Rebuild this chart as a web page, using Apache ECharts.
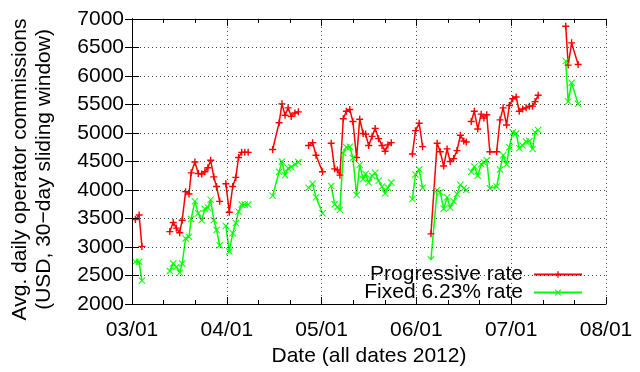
<!DOCTYPE html>
<html>
<head>
<meta charset="utf-8">
<script src="https://cdn.jsdelivr.net/npm/echarts@6/dist/echarts.min.js"></script>
<style>
html,body{margin:0;padding:0;background:#fff;}
#chart{width:640px;height:372px;}
</style>
</head>
<body>
<div id="chart"></div>
<script>
// x positions: days elapsed since 2012-03-01 (axis runs 03/01 .. 08/01)
const days = [
  1.1, 2.3, 3.2,
  12.2, 13.3, 14.3, 15.4, 16.2, 17.3, 18.4, 19.1, 20.3, 21.4, 22.5, 23.5, 24.5, 25.4, 26.4, 27.3, 28.3,
  30.3, 31.4, 32.5, 33.5, 34.4, 35.4, 36.4, 37.5,
  45.4, 47.5, 48.4, 49.4, 50.4, 51.4, 52.6, 53.7,
  57.0, 58.3, 59.4, 61.5,
  64.3, 65.4, 66.3, 67.1, 68.2, 69.2, 70.3, 71.3, 72.5, 73.5, 74.6, 75.4, 76.4, 77.5, 78.5, 79.6, 80.7, 81.7, 82.6, 83.7,
  90.5, 91.5, 92.7, 93.8,
  96.5, 98.5, 99.5, 100.6, 101.7, 102.7, 103.8, 104.9, 106.0, 107.1, 107.9,
  109.5, 110.5, 111.6, 112.7, 113.6, 114.5, 115.5, 117.7, 118.8, 119.8, 120.9, 121.8, 122.9, 124.0, 125.0, 126.1, 127.2, 128.3, 129.3, 130.1, 131.1,
  140.0, 140.8, 141.9, 144.0
];
// first day of each unbroken run of data (a gap precedes it)
const segmentStarts = [12.2, 30.3, 45.4, 57.0, 64.3, 90.5, 96.5, 109.5, 140.0];

const progressive = [
  3480, 3560, 3010,
  3270, 3430, 3330, 3250, 3470, 3970, 3930, 4300, 4490, 4290, 4280, 4320, 4390, 4520, 4230, 4060, 3800,
  4110, 3610, 4060, 4220, 4570, 4660, 4660, 4660,
  4710, 5180, 5510, 5310, 5440, 5290, 5350, 5370,
  4780, 4830, 4610, 4320,
  4820, 4370, 4350, 4260, 5250, 5380, 5410, 5200, 4570, 5240, 4990, 4980, 4780, 4940, 5080, 4900, 4780, 4680, 4790, 4830,
  4630, 5040, 5170, 4760,
  3230, 4820, 4670, 4420, 4720, 4500, 4550, 4690, 4960, 4860, 4840,
  5200, 5380, 5070, 5330, 5260, 5320, 4670, 4670, 5230, 5440, 5140, 5480, 5600, 5630, 5380, 5420, 5440, 5470, 5470, 5550, 5660,
  6870, 6190, 6580, 6200
];
const fixed = [
  2740, 2740, 2410,
  2580, 2710, 2650, 2550, 2710, 3150, 3180, 3490, 3800, 3590, 3470, 3670, 3690, 3830, 3470, 3300, 3030,
  3370, 2920, 3240, 3420, 3620, 3745, 3745, 3745,
  3900, 4320, 4500, 4260, 4380, 4400, 4450, 4490,
  4040, 4110, 3870, 3590,
  4070, 3750, 3700, 3650, 4650, 4750, 4760, 4560, 3910, 4440, 4190, 4280, 4130, 4250, 4300, 4160, 4060, 3940, 4040, 4130,
  3840, 4270, 4360, 4040,
  2780, 4000, 3960, 3670, 3870, 3690, 3800, 3930, 4090, 4030, 4000,
  4320, 4410, 4250, 4450, 4480, 4520, 4030, 4060, 4360, 4610, 4450, 4750, 5010, 4990, 4730, 4780, 4850, 4860, 4720, 5010, 5050,
  6260, 5550, 5880, 5510
];

const xTickLabels = ['03/01', '04/01', '05/01', '06/01', '07/01', '08/01'];
const xSpanDays = 153;
const yMin = 2000, yMax = 7000, yStep = 500;
const seriesNames = ['Progressive rate', 'Fixed 6.23% rate'];

function build(vals) {
  const out = [];
  days.forEach((d, i) => {
    if (segmentStarts.indexOf(d) >= 0) out.push([d, '-']);
    out.push([d, vals[i]]);
  });
  return out;
}

const FONT = 'Liberation Sans, Arial, Helvetica, sans-serif';
const PLUS = 'path://M4,0H6V4H10V6H6V10H4V6H0V4H4Z';
const CROSS = 'path://M0,1L1,0L5,4L9,0L10,1L6,5L10,9L9,10L5,6L1,10L0,9L4,5Z';
const tickInterval = xSpanDays / (xTickLabels.length - 1);

const commonX = {
  type: 'value', min: 0, max: xSpanDays, interval: tickInterval,
  axisLine: { show: true, lineStyle: { color: '#000', width: 1 } },
  axisTick: { show: true, inside: true, length: 7, lineStyle: { color: '#000' } },
  minorTick: { show: true, splitNumber: 3, length: 4, lineStyle: { color: '#000' } },
  z: 5
};
const commonY = {
  type: 'value', min: yMin, max: yMax, interval: yStep,
  axisLine: { show: true, lineStyle: { color: '#000', width: 1 } },
  axisTick: { show: true, inside: true, length: 7, lineStyle: { color: '#000' } },
  z: 5
};

const chart = echarts.init(document.getElementById('chart'), null, { renderer: 'canvas' });
chart.setOption({
  animation: false,
  backgroundColor: '#fff',
  textStyle: { fontFamily: FONT },
  grid: { left: 132, top: 16, width: 474, height: 289, containLabel: false },
  xAxis: [
    Object.assign({}, commonX, {
      position: 'bottom',
      name: 'Date (all dates 2012)', nameLocation: 'middle', nameGap: 42,
      nameTextStyle: { fontSize: 21, color: '#000', fontFamily: FONT },
      axisLabel: {
        show: true, fontSize: 21, color: '#000', margin: 16, fontFamily: FONT,
        formatter: v => xTickLabels[Math.round(v / tickInterval)] || ''
      },
      splitLine: { show: true, lineStyle: { color: '#444', type: [1, 3], width: 1 } }
    }),
    Object.assign({}, commonX, {
      position: 'top', axisLabel: { show: false }, splitLine: { show: false }
    })
  ],
  yAxis: [
    Object.assign({}, commonY, {
      position: 'left',
      name: 'Avg. daily operator commissions\n(USD, 30\u2212day sliding window)',
      nameLocation: 'middle', nameRotate: 90, nameGap: 76,
      nameTextStyle: { fontSize: 21, color: '#000', lineHeight: 24, fontFamily: FONT, align: 'center', padding: [0, 16, 0, 0] },
      axisLabel: { show: true, fontSize: 21, color: '#000', margin: 8, fontFamily: FONT, formatter: v => String(v) },
      splitLine: { show: true, lineStyle: { color: '#444', type: [1, 3], width: 1 } }
    }),
    Object.assign({}, commonY, {
      position: 'right', axisLabel: { show: false }, splitLine: { show: false }
    })
  ],
  legend: {
    orient: 'vertical', align: 'right',
    right: 35, bottom: 67,
    itemWidth: 48, itemHeight: 8, itemGap: -3,
    padding: [4, 22, 2, 5],
    backgroundColor: '#fff',
    z: 4,
    textStyle: { fontSize: 21, color: '#000', lineHeight: 19, fontFamily: FONT, padding: [0, 6, 0, 0] },
    data: seriesNames
  },
  series: [
    {
      name: seriesNames[0], type: 'line', xAxisIndex: 0, yAxisIndex: 0,
      data: build(progressive), connectNulls: false,
      symbol: PLUS, symbolSize: 7, showSymbol: true,
      lineStyle: { color: '#ff0000', width: 1.5 },
      itemStyle: { color: '#ff0000' },
      z: 2
    },
    {
      name: seriesNames[1], type: 'line', xAxisIndex: 0, yAxisIndex: 0,
      data: build(fixed), connectNulls: false,
      symbol: CROSS, symbolSize: 7, showSymbol: true,
      lineStyle: { color: '#00ff00', width: 1.5 },
      itemStyle: { color: '#00ff00' },
      z: 2
    }
  ]
});
</script>
</body>
</html>
